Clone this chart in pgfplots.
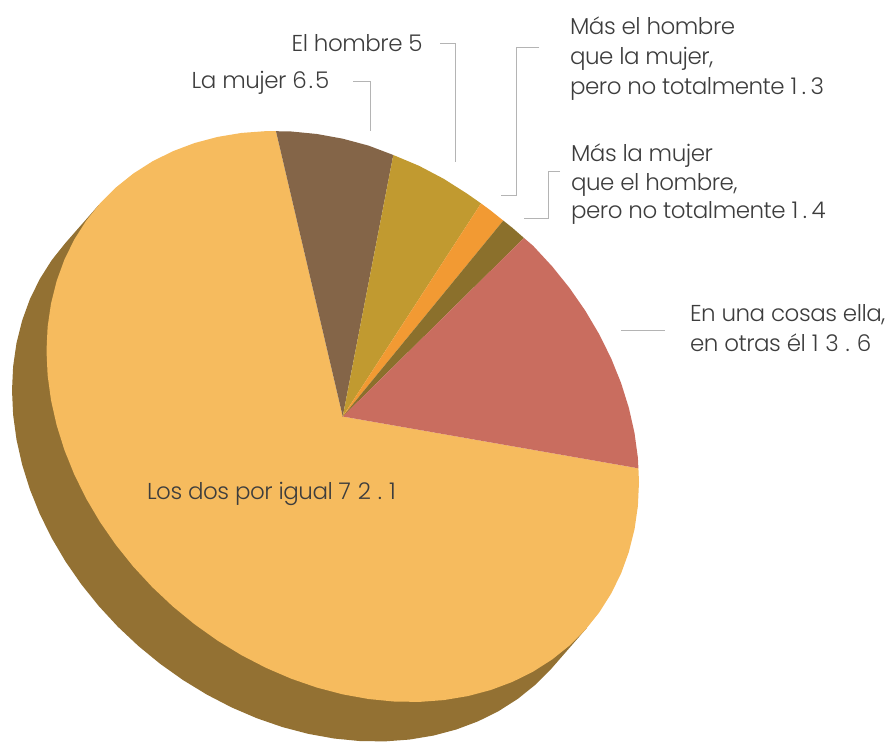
\documentclass[border=0pt]{standalone}
\usepackage{pgfplots}
\pgfplotsset{compat=1.18}
\usepackage{fontspec}
\setmainfont{Poppins Light}[LetterSpace=-2]
\definecolor{cMain}{HTML}{F6BB5E}
\definecolor{cSide}{HTML}{937133}
\definecolor{cBrown}{HTML}{846548}
\definecolor{cGold}{HTML}{C19A30}
\definecolor{cOrange}{HTML}{F29A33}
\definecolor{cOlive}{HTML}{8B702C}
\definecolor{cRed}{HTML}{C96D5F}
\definecolor{cText}{HTML}{3D3D3D}
\definecolor{cLead}{HTML}{B4B4B4}
\tikzset{lbl/.style={anchor=base west,text=cText,font=\fontsize{23}{26}\selectfont,inner sep=0pt,outer sep=0pt}}
\newcommand{\dd}{\hspace{0.2em}}
\newcommand{\de}{\hspace{0.3em}}
\newcommand{\dc}{\hspace{0.09em}}
\begin{document}
\begin{tikzpicture}
\begin{axis}[
  width=888pt,height=741pt,scale only axis,hide axis,
  xmin=0,xmax=888,ymin=0,ymax=741,y dir=reverse,clip=true,
]
\path (axis cs:0,0) rectangle (axis cs:888,741);
% side of the disc
\addplot[fill=cSide,draw=none] coordinates {
(586.8,628)(550.93,669.17)(535.19,684.91)(517.73,698.91)(498.68,711.06)(478.17,721.27)(456.38,729.47)(433.45,735.57)(409.57,739.55)(384.92,741.38)(359.68,741.03)(334.07,738.51)(308.25,733.85)(282.43,727.07)(256.82,718.23)(231.58,707.38)(206.93,694.63)(183.05,680.07)(160.12,663.79)(138.33,645.93)(117.82,626.64)(98.77,606.03)(81.31,584.29)(65.57,561.57)(51.69,538.06)(39.76,513.90)(29.86,489.32)(22.10,464.48)(16.50,439.58)(13.13,414.80)(12.00,390.33)(13.13,366.36)(16.50,343.08)(22.10,320.66)(29.86,299.26)(39.76,279.06)(51.69,260.20)(65.57,242.83)(98.7,205)
};
% Los dos por igual 72.1
\addplot[fill=cMain,draw=none] coordinates {
(342.75,416.5)(638.4,468.3)(639.00,482.17)(637.87,506.14)(634.50,529.42)(628.90,551.84)(621.14,573.24)(611.24,593.44)(599.31,612.30)(585.43,629.67)(569.69,645.41)(552.23,659.41)(533.18,671.56)(512.67,681.77)(490.88,689.97)(467.95,696.07)(444.07,700.05)(419.42,701.88)(394.18,701.53)(368.57,699.01)(342.75,694.35)(316.93,687.57)(291.32,678.73)(266.08,667.88)(241.43,655.13)(217.55,640.57)(194.62,624.29)(172.83,606.43)(152.32,587.14)(133.27,566.53)(115.81,544.79)(100.07,522.07)(86.19,498.56)(74.26,474.40)(64.36,449.82)(56.60,424.98)(51.00,400.08)(47.63,375.30)(46.50,350.83)(47.63,326.86)(51.00,303.58)(56.60,281.16)(64.36,259.76)(74.26,239.56)(86.19,220.70)(100.07,203.33)(115.81,187.59)(133.27,173.59)(152.32,161.44)(172.83,151.23)(194.62,143.03)(217.55,136.93)(241.43,132.95)(266.08,131.12)(276,131.2)
};
% La mujer 6.5
\addplot[fill=cBrown,draw=none] coordinates {
(342.75,416.5)(276,131.2)(291.32,131.5)(316.93,134)(342.75,138.7)(368.5,145.6)(393.3,155)
};
% El hombre 5
\addplot[fill=cGold,draw=none] coordinates {
(342.75,416.5)(393.3,155)(419.2,165.9)(443.7,178.8)(467.3,193.8)(481,203.4)
};
% Mas el hombre 1.3
\addplot[fill=cOrange,draw=none] coordinates {
(342.75,416.5)(481,203.4)(490,210)(503.3,220.6)
};
% Mas la mujer 1.4
\addplot[fill=cOlive,draw=none] coordinates {
(342.75,416.5)(503.3,220.6)(512,227.5)(524,238)
};
% En una cosas ella 13.6
\addplot[fill=cRed,draw=none] coordinates {
(342.75,416.5)(524,238)(533.18,245.86)(552.23,266.47)(569.69,288.21)(585.43,310.93)(599.31,334.44)(611.24,358.60)(621.14,383.18)(628.90,408.02)(634.50,432.92)(637.87,457.70)(638.4,468.3)
};
% leaders
\addplot[cLead,line width=1pt] coordinates {(353.3,81.7)(370,81.7)(370,130.7)};
\addplot[cLead,line width=1pt] coordinates {(440,43.3)(455.7,43.3)(455.7,162.3)};
\addplot[cLead,line width=1pt] coordinates {(539.3,47.3)(516,47.3)(516,195)(501,195)};
\addplot[cLead,line width=1pt] coordinates {(560,171.3)(548.3,171.3)(548.3,218.3)(524,218.3)};
\addplot[cLead,line width=1pt] coordinates {(621,330)(665,330)};
% labels
\node[lbl] at (axis cs:291.7,51.7) {El hombre 5};
\node[lbl] at (axis cs:191.7,88.3) {La mujer 6\dc.\dc5};
\node[lbl] at (axis cs:570,35) {Más el hombre};
\node[lbl] at (axis cs:570,65) {que la mujer,};
\node[lbl] at (axis cs:570,95) {pero no totalmente 1\dd.\dd3};
\node[lbl] at (axis cs:571,161) {Más la mujer};
\node[lbl] at (axis cs:571,190) {que el hombre,};
\node[lbl] at (axis cs:571,218.5) {pero no totalmente 1\dd.\dd4};
\node[lbl] at (axis cs:690,321.7) {En una cosas ella,};
\node[lbl] at (axis cs:690,351.7) {en otras él 1\de3\de.\de6};
\node[lbl] at (axis cs:147,499) {Los dos por igual 7\de2\de.\de1};
\end{axis}
\end{tikzpicture}
\end{document}
